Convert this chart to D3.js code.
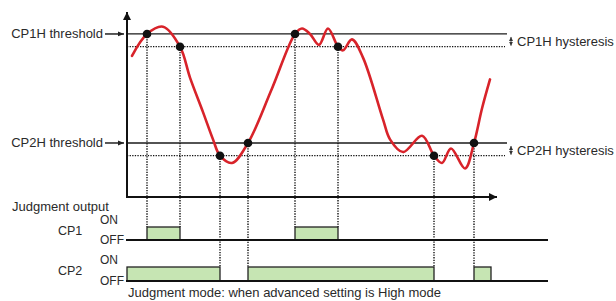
<!DOCTYPE html>
<html>
<head>
<meta charset="utf-8">
<script src="https://cdn.jsdelivr.net/npm/d3@7"></script>
<style>
  body { margin: 0; background: #fff; }
  text { font-family: "Liberation Sans", Arial, sans-serif; fill: #2a2a2a; }
</style>
</head>
<body>
<svg id="chart"></svg>
<script>
// measured signal (time, value)
var signalT = [5, 20, 36, 53, 63, 76, 86, 93, 105, 121, 145, 168, 175, 183, 192, 201, 211, 216, 225, 236, 256, 263, 276, 295, 307, 315, 324, 338, 347, 355, 363];
var signalV = [78, 90, 94, 83, 66, 47, 32, 23, 19, 30, 60, 90, 93, 90, 84, 93, 83, 81, 87, 77, 43, 32, 25, 34, 23, 19, 27, 16, 30, 49, 65];

// thresholds
var cp1Threshold = 90, cp1Hysteresis = 7;
var cp2Threshold = 30, cp2Hysteresis = 7;

// switching events (time, value)
var eventT = [20, 53, 93, 121, 168, 211, 307, 347];
var eventV = [90, 83, 23, 30, 90, 83, 23, 30];

// ON periods of each output
var cp1On = [[20, 53], [168, 211]];
var cp2On = [[0, 93], [121, 307], [347, 364]];
var cp1Events = [20, 53, 168, 211];
var cp2Events = [93, 121, 307, 347];

var width = 616, height = 301;

var svg = d3.select("#chart")
  .attr("width", width)
  .attr("height", height);

var x = d3.scaleLinear().domain([0, 370]).range([127, 497]);
var y = d3.scaleLinear().domain([0, 100]).range([197.5, 15.8]);

var axisY0 = 197, axisTop = 12;
var cp1Base = 240, cp1High = 227;
var cp2Base = 281, cp2High = 267;
var lineEnd = 507, baseEnd = 548;

// arrow markers
var defs = svg.append("defs");
defs.append("marker")
  .attr("id", "arr")
  .attr("viewBox", "0 0 10 10")
  .attr("refX", 10).attr("refY", 5)
  .attr("markerWidth", 6).attr("markerHeight", 6)
  .attr("markerUnits", "userSpaceOnUse")
  .attr("orient", "auto")
  .append("path").attr("d", "M0,1L10,5L0,9Z").attr("fill", "#222");
defs.append("marker")
  .attr("id", "bigarr")
  .attr("viewBox", "0 0 10 10")
  .attr("refX", 10).attr("refY", 5)
  .attr("markerWidth", 11).attr("markerHeight", 8)
  .attr("markerUnits", "userSpaceOnUse")
  .attr("orient", "auto")
  .append("path").attr("d", "M0,0L10,5L0,10Z").attr("fill", "#111");
defs.append("marker")
  .attr("id", "tiny")
  .attr("viewBox", "0 0 10 10")
  .attr("refX", 10).attr("refY", 5)
  .attr("markerWidth", 4).attr("markerHeight", 4)
  .attr("markerUnits", "userSpaceOnUse")
  .attr("orient", "auto-start-reverse")
  .append("path").attr("d", "M0,0L10,5L0,10Z").attr("fill", "#333");

// threshold lines
[cp1Threshold, cp2Threshold].forEach(function (t) {
  svg.append("line")
    .attr("x1", x(0)).attr("x2", lineEnd)
    .attr("y1", y(t)).attr("y2", y(t))
    .attr("stroke", "#1a1a1a").attr("stroke-width", 1.3);
});
[cp1Threshold - cp1Hysteresis, cp2Threshold - cp2Hysteresis].forEach(function (t) {
  svg.append("line")
    .attr("x1", x(0)).attr("x2", lineEnd - 2)
    .attr("y1", y(t)).attr("y2", y(t))
    .attr("stroke", "#111").attr("stroke-width", 1.3)
    .attr("stroke-dasharray", "1.3,1.3");
});

// hysteresis markers
[[cp1Threshold, cp1Hysteresis, "CP1H hysteresis"], [cp2Threshold, cp2Hysteresis, "CP2H hysteresis"]].forEach(function (h) {
  svg.append("line")
    .attr("x1", 511).attr("x2", 511)
    .attr("y1", y(h[0]) + 3).attr("y2", y(h[0] - h[1]) - 1)
    .attr("stroke", "#333").attr("stroke-width", 0.9)
    .attr("marker-start", "url(#tiny)")
    .attr("marker-end", "url(#tiny)");
  svg.append("text")
    .attr("x", 517).attr("y", y(h[0]) + 12)
    .style("font-size", "13px")
    .text(h[2]);
});

// threshold labels with arrows
[[cp1Threshold, "CP1H threshold"], [cp2Threshold, "CP2H threshold"]].forEach(function (t) {
  svg.append("text")
    .attr("x", 103).attr("y", y(t[0]) + 4.5)
    .attr("text-anchor", "end")
    .style("font-size", "13px")
    .text(t[1]);
  svg.append("line")
    .attr("x1", 105).attr("x2", 124)
    .attr("y1", y(t[0])).attr("y2", y(t[0]))
    .attr("stroke", "#222").attr("stroke-width", 1.5)
    .attr("marker-end", "url(#arr)");
});

// vertical dotted guides
cp1Events.forEach(function (t) {
  var k = eventT.indexOf(t);
  svg.append("line")
    .attr("x1", x(t)).attr("x2", x(t))
    .attr("y1", y(eventV[k])).attr("y2", cp1High)
    .attr("stroke", "#111").attr("stroke-width", 1.4)
    .attr("stroke-dasharray", "1.3,1.3");
});
cp2Events.forEach(function (t) {
  var k = eventT.indexOf(t);
  svg.append("line")
    .attr("x1", x(t)).attr("x2", x(t))
    .attr("y1", y(eventV[k])).attr("y2", cp2High)
    .attr("stroke", "#111").attr("stroke-width", 1.4)
    .attr("stroke-dasharray", "1.3,1.3");
});

// axes
svg.append("line")
  .attr("x1", x(0)).attr("x2", x(0))
  .attr("y1", axisY0 + 1).attr("y2", axisTop)
  .attr("stroke", "#111").attr("stroke-width", 2)
  .attr("marker-end", "url(#bigarr)");
svg.append("line")
  .attr("x1", x(0) - 1).attr("x2", x(370))
  .attr("y1", axisY0).attr("y2", axisY0)
  .attr("stroke", "#111").attr("stroke-width", 2)
  .attr("marker-end", "url(#bigarr)");

// signal curve
var signal = signalT.map(function (t, i) { return [t, signalV[i]]; });
var line = d3.line()
  .x(function (d) { return x(d[0]); })
  .y(function (d) { return y(d[1]); })
  .curve(d3.curveCatmullRom.alpha(0.5));

svg.append("path")
  .datum(signal)
  .attr("d", line)
  .attr("fill", "none")
  .attr("stroke", "#d8232a")
  .attr("stroke-width", 2.6)
  .attr("stroke-linecap", "round");

// event points
svg.selectAll("circle.evt")
  .data(eventT)
  .enter()
  .append("circle")
  .attr("class", "evt")
  .attr("cx", function (d) { return x(d); })
  .attr("cy", function (d, i) { return y(eventV[i]); })
  .attr("r", 4.3)
  .attr("fill", "#111");

// judgment output
svg.append("text").attr("x", 12).attr("y", 211).style("font-size", "13px").text("Judgment output");

function drawOutput(name, periods, base, high, labelY) {
  svg.append("text").attr("x", 58).attr("y", labelY).style("font-size", "12.5px").text(name);
  svg.append("text").attr("x", 100).attr("y", high - 3).style("font-size", "12px").text("ON");
  svg.append("text").attr("x", 100).attr("y", base + 3.5).style("font-size", "12px").text("OFF");

  svg.selectAll("rect." + name)
    .data(periods)
    .enter()
    .append("rect")
    .attr("class", name)
    .attr("x", function (d) { return x(d[0]); })
    .attr("y", high)
    .attr("width", function (d) { return x(d[1]) - x(d[0]); })
    .attr("height", base - high)
    .attr("fill", "#c6e5b3")
    .attr("stroke", "#222")
    .attr("stroke-width", 1.3);

  svg.append("line")
    .attr("x1", x(0) - 1).attr("x2", baseEnd)
    .attr("y1", base).attr("y2", base)
    .attr("stroke", "#111").attr("stroke-width", 2);
}
drawOutput("CP1", cp1On, cp1Base, cp1High, 235);
drawOutput("CP2", cp2On, cp2Base, cp2High, 275);

svg.append("text")
  .attr("x", 128).attr("y", 297)
  .style("font-size", "13px")
  .text("Judgment mode: when advanced setting is High mode");
</script>
</body>
</html>
